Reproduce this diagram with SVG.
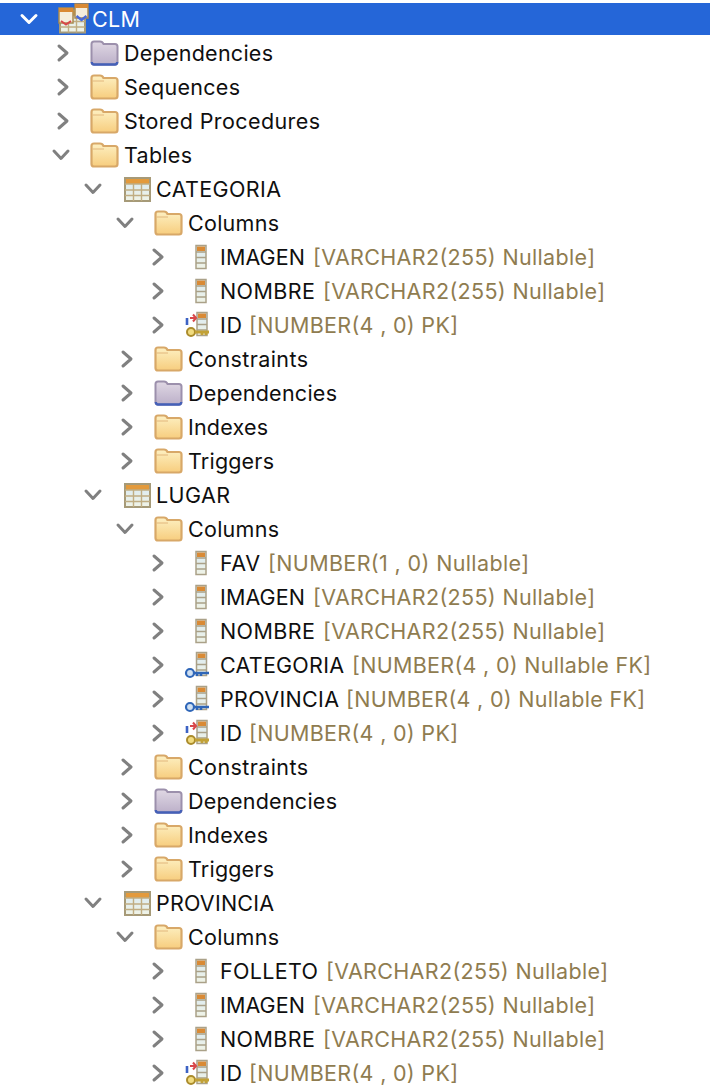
<svg xmlns="http://www.w3.org/2000/svg" xmlns:xlink="http://www.w3.org/1999/xlink" width="710" height="1092" viewBox="0 0 710 1092">
<style>
text{font-family:Inter,"Liberation Sans",sans-serif;font-size:21.5px;fill:#0f0f0f}
.t{fill:#8f7c50}
.w{fill:#fff}
.c{fill:none;stroke:#808080;stroke-width:3;stroke-linecap:round;stroke-linejoin:round}
</style>
<defs>
<linearGradient id="fy" x1="0" y1="0" x2="0" y2="1"><stop offset="0" stop-color="#fdf0c2"/><stop offset="1" stop-color="#f7cd7e"/></linearGradient>
<linearGradient id="fp" x1="0" y1="0" x2="0" y2="1"><stop offset="0" stop-color="#e0d8e4"/><stop offset="1" stop-color="#bcb0c9"/></linearGradient>
<linearGradient id="cell" x1="0" y1="0" x2="0" y2="1"><stop offset="0" stop-color="#d9eaf3"/><stop offset="1" stop-color="#f0f3e6"/></linearGradient>
<path id="ch" class="c" d="M-4-7L4 0L-4 7"/>
<path id="cd" class="c" d="M-7-4L0 3.500L7-4"/>
<g id="folder"><path d="M1.500-8V-10Q1.500-12.500 4-12.500H10Q12.500-12.500 13.500-10H25Q27.500-10 27.500-7.500V8Q27.500 10.500 25 10.500H4Q1.500 10.500 1.500 8Z" fill="url(#fy)" stroke="#d8a868" stroke-width="2.200"/><path d="M2.500-7H14" fill="none" stroke="#e2b77c" stroke-width="1"/></g>
<g id="dep"><path d="M1.500-8V-10Q1.500-12.500 4-12.500H10Q12.500-12.500 13.500-10H25Q27.500-10 27.500-7.500V8Q27.500 10.500 25 10.500H4Q1.500 10.500 1.500 8Z" fill="url(#fp)" stroke="#9c90ac" stroke-width="2"/><path d="M1.800 8Q2 10.500 4 10.500H25Q27 10.500 27.200 8" fill="none" stroke="#4460b8" stroke-width="2.400"/></g>
<g id="table"><rect x="1" y="-11" width="25" height="23" fill="url(#cell)" stroke="#a69a78" stroke-width="2"/><rect x="2" y="-10" width="23" height="5" fill="#e39a3c"/><path d="M1-5H26M1 1H26M1 6.500H26M9.500-5V12M17.500-5V12" stroke="#c0ad82" stroke-width="1.400" fill="none"/></g>
<g id="col"><rect x="-5" y="-11.500" width="10" height="23" fill="url(#cell)" stroke="#aaa188" stroke-width="1.500"/><rect x="-4" y="-10.500" width="8" height="4.500" fill="#d98a35"/><path d="M-5-5H5M-5 0.500H5M-5 6H5" stroke="#aaa188" stroke-width="1.400"/></g>
<g id="pk"><use xlink:href="#col" x="5" y="-1"/><path d="M-7-7H-1M-4-10.500L-1-7L-4-3.500" fill="none" stroke="#d8474a" stroke-width="2"/><path d="M-10-7V0" stroke="#3c62c4" stroke-width="2.600"/><circle cx="-6" cy="7" r="4" fill="#f1dc80" stroke="#ab8c2c" stroke-width="2"/><path d="M-2 7H12M5 7V10M9 7V10" fill="none" stroke="#c2a136" stroke-width="2.800"/></g>
<g id="fk"><use xlink:href="#col" x="4.500" y="-1"/><circle cx="-7" cy="8" r="4" fill="#cfe0f2" stroke="#2f66b8" stroke-width="2.200"/><path d="M-3 8H12M0 8V11M4 8V11" fill="none" stroke="#2f66b8" stroke-width="2.600"/></g>
<g id="schema"><g transform="translate(1,1.500)"><use xlink:href="#table"/></g><g transform="translate(0,-4)"><rect x="1" y="-7" width="14" height="15" fill="#f5eedd" stroke="#a88a50" stroke-width="1.500"/><rect x="1" y="-7" width="14" height="4" fill="#d98a35"/><path d="M3 6L8 9.500L13 6" fill="none" stroke="#d8474a" stroke-width="2"/></g><g transform="translate(16,-16)"><rect x="1" y="1" width="13" height="14" fill="#f5eedd" stroke="#a88a50" stroke-width="1.500"/><rect x="1" y="1" width="13" height="4" fill="#d98a35"/><path d="M2.500 13L7.500 17L12.500 13" fill="none" stroke="#4a6ad8" stroke-width="2.500"/></g></g>
</defs>
<rect id="selection" x="0" y="3" width="710" height="32" fill="#2566d8"/>
<g id="tree-root"><path class="c" style="stroke:#fff" d="M22 15.500L29 22.500L36 15.500"/><use xlink:href="#schema" x="58" y="19"/><text class="w" x="92" y="27" textLength="48">CLM</text></g>
<g id="dependencies-1"><use xlink:href="#ch" x="63" y="53"/><use xlink:href="#dep" x="90" y="54"/><text x="124" y="61" textLength="149">Dependencies</text></g>
<g id="sequences"><use xlink:href="#ch" x="63" y="87"/><use xlink:href="#folder" x="90" y="88"/><text x="124" y="95" textLength="116">Sequences</text></g>
<g id="stored-procedures"><use xlink:href="#ch" x="63" y="121"/><use xlink:href="#folder" x="90" y="122"/><text x="124" y="129" textLength="196">Stored Procedures</text></g>
<g id="tables"><use xlink:href="#cd" x="61" y="155"/><use xlink:href="#folder" x="90" y="156"/><text x="124" y="163" textLength="68">Tables</text></g>

<g id="categoria"><use xlink:href="#cd" x="93" y="189"/><use xlink:href="#table" x="124" y="189"/><text x="156" y="197" textLength="125">CATEGORIA</text></g>
<g id="categoria-columns"><use xlink:href="#cd" x="125" y="223"/><use xlink:href="#folder" x="154" y="224"/><text x="188" y="231" textLength="91">Columns</text></g>
<g id="categoria-imagen"><use xlink:href="#ch" x="158" y="257"/><use xlink:href="#col" x="201" y="257"/><text x="220" y="265" textLength="85">IMAGEN</text><text class="t" x="313" y="265" textLength="282">[VARCHAR2(255) Nullable]</text></g>
<g id="categoria-nombre"><use xlink:href="#ch" x="158" y="291"/><use xlink:href="#col" x="201" y="291"/><text x="220" y="299" textLength="95">NOMBRE</text><text class="t" x="323" y="299" textLength="282">[VARCHAR2(255) Nullable]</text></g>
<g id="categoria-id"><use xlink:href="#ch" x="158" y="325"/><use xlink:href="#pk" x="197" y="325"/><text x="220" y="333" textLength="22">ID</text><text class="t" x="249" y="333" textLength="209">[NUMBER(4 , 0) PK]</text></g>
<g id="categoria-constraints"><use xlink:href="#ch" x="127" y="359"/><use xlink:href="#folder" x="154" y="360"/><text x="188" y="367" textLength="120">Constraints</text></g>
<g id="categoria-dependencies"><use xlink:href="#ch" x="127" y="393"/><use xlink:href="#dep" x="154" y="394"/><text x="188" y="401" textLength="149">Dependencies</text></g>
<g id="categoria-indexes"><use xlink:href="#ch" x="127" y="427"/><use xlink:href="#folder" x="154" y="428"/><text x="188" y="435" textLength="80">Indexes</text></g>
<g id="categoria-triggers"><use xlink:href="#ch" x="127" y="461"/><use xlink:href="#folder" x="154" y="462"/><text x="188" y="469" textLength="86">Triggers</text></g>

<g id="lugar"><use xlink:href="#cd" x="93" y="495"/><use xlink:href="#table" x="124" y="495"/><text x="156" y="503" textLength="74">LUGAR</text></g>
<g id="lugar-columns"><use xlink:href="#cd" x="125" y="529"/><use xlink:href="#folder" x="154" y="530"/><text x="188" y="537" textLength="91">Columns</text></g>
<g id="lugar-fav"><use xlink:href="#ch" x="158" y="563"/><use xlink:href="#col" x="201" y="563"/><text x="220" y="571" textLength="40">FAV</text><text class="t" x="268" y="571" textLength="261">[NUMBER(1 , 0) Nullable]</text></g>
<g id="lugar-imagen"><use xlink:href="#ch" x="158" y="597"/><use xlink:href="#col" x="201" y="597"/><text x="220" y="605" textLength="85">IMAGEN</text><text class="t" x="313" y="605" textLength="282">[VARCHAR2(255) Nullable]</text></g>
<g id="lugar-nombre"><use xlink:href="#ch" x="158" y="631"/><use xlink:href="#col" x="201" y="631"/><text x="220" y="639" textLength="95">NOMBRE</text><text class="t" x="323" y="639" textLength="282">[VARCHAR2(255) Nullable]</text></g>
<g id="lugar-categoria"><use xlink:href="#ch" x="158" y="665"/><use xlink:href="#fk" x="197" y="665"/><text x="220" y="673" textLength="124">CATEGORIA</text><text class="t" x="352" y="673" textLength="299">[NUMBER(4 , 0) Nullable FK]</text></g>
<g id="lugar-provincia"><use xlink:href="#ch" x="158" y="699"/><use xlink:href="#fk" x="197" y="699"/><text x="220" y="707" textLength="119">PROVINCIA</text><text class="t" x="346" y="707" textLength="299">[NUMBER(4 , 0) Nullable FK]</text></g>
<g id="lugar-id"><use xlink:href="#ch" x="158" y="733"/><use xlink:href="#pk" x="197" y="733"/><text x="220" y="741" textLength="22">ID</text><text class="t" x="249" y="741" textLength="209">[NUMBER(4 , 0) PK]</text></g>
<g id="lugar-constraints"><use xlink:href="#ch" x="127" y="767"/><use xlink:href="#folder" x="154" y="768"/><text x="188" y="775" textLength="120">Constraints</text></g>
<g id="lugar-dependencies"><use xlink:href="#ch" x="127" y="801"/><use xlink:href="#dep" x="154" y="802"/><text x="188" y="809" textLength="149">Dependencies</text></g>
<g id="lugar-indexes"><use xlink:href="#ch" x="127" y="835"/><use xlink:href="#folder" x="154" y="836"/><text x="188" y="843" textLength="80">Indexes</text></g>
<g id="lugar-triggers"><use xlink:href="#ch" x="127" y="869"/><use xlink:href="#folder" x="154" y="870"/><text x="188" y="877" textLength="86">Triggers</text></g>

<g id="provincia"><use xlink:href="#cd" x="93" y="903"/><use xlink:href="#table" x="124" y="903"/><text x="156" y="911" textLength="118">PROVINCIA</text></g>
<g id="provincia-columns"><use xlink:href="#cd" x="125" y="937"/><use xlink:href="#folder" x="154" y="938"/><text x="188" y="945" textLength="91">Columns</text></g>
<g id="provincia-folleto"><use xlink:href="#ch" x="158" y="971"/><use xlink:href="#col" x="201" y="971"/><text x="220" y="979" textLength="98">FOLLETO</text><text class="t" x="326" y="979" textLength="282">[VARCHAR2(255) Nullable]</text></g>
<g id="provincia-imagen"><use xlink:href="#ch" x="158" y="1005"/><use xlink:href="#col" x="201" y="1005"/><text x="220" y="1013" textLength="85">IMAGEN</text><text class="t" x="313" y="1013" textLength="282">[VARCHAR2(255) Nullable]</text></g>
<g id="provincia-nombre"><use xlink:href="#ch" x="158" y="1039"/><use xlink:href="#col" x="201" y="1039"/><text x="220" y="1047" textLength="95">NOMBRE</text><text class="t" x="323" y="1047" textLength="282">[VARCHAR2(255) Nullable]</text></g>
<g id="provincia-id"><use xlink:href="#ch" x="158" y="1073"/><use xlink:href="#pk" x="197" y="1073"/><text x="220" y="1081" textLength="22">ID</text><text class="t" x="249" y="1081" textLength="209">[NUMBER(4 , 0) PK]</text></g>
</svg>
